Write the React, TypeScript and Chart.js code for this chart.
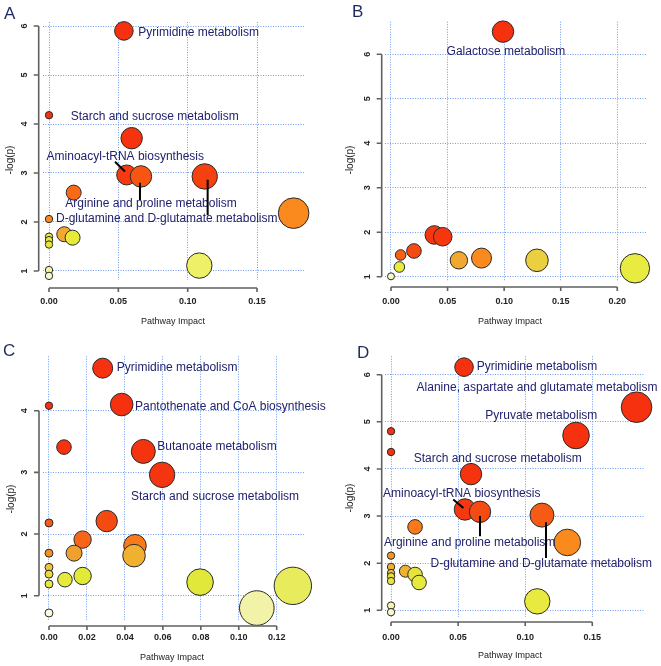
import React, { useEffect, useRef } from 'react';
import { Chart, registerables } from 'chart.js';

Chart.register(...registerables);

// ---------- Panel A ----------
const aImpact = [0.054, 0, 0.0596, 0.056, 0.0663, 0.1123, 0.0178, 0, 0.1764, 0.011, 0.017, 0, 0, 0, 0.1084, 0, 0];
const aLogP = [5.9, 4.18, 3.71, 2.96, 2.93, 2.93, 2.6, 2.06, 2.18, 1.75, 1.68, 1.7, 1.63, 1.54, 1.11, 1.02, 0.9];
const aSize = [9.3, 3.7, 10.7, 10, 10.7, 12.7, 7.5, 3.7, 15.3, 7.5, 7.5, 3.7, 3.7, 3.7, 12.7, 3.7, 3.7];
const aColor = ['#f5310f', '#f5310f', '#f5330f', '#f53a10', '#f85512', '#f54010', '#f86a18', '#fa8a1c', '#fb8a1e', '#f5a830', '#e8ea3a', '#ecec40', '#ece840', '#e6e838', '#eef068', '#f4f4a8', '#f8f8cc'];
const aLabels = ['Pyrimidine metabolism', 'Starch and sucrose metabolism', 'Aminoacyl-tRNA biosynthesis', 'Arginine and proline metabolism', 'D-glutamine and D-glutamate metabolism'];
const aLabelX = [0.0644, 0.0762, 0.055, 0.0736, 0.0849];
const aLabelY = [5.87, 4.15, 3.33, 2.37, 2.06];
const aLabelAlign = ['left', 'center', 'center', 'center', 'center'];
const aLeaderX = [0.0476, 0.0548, 0.0656, 0.0656, 0.1144, 0.1144];
const aLeaderY = [3.23, 3.03, 2.8, 2.45, 2.86, 2.14];
const aXTicks = [0, 0.05, 0.1, 0.15];
const aYTicks = [1, 2, 3, 4, 5, 6];

// ---------- Panel B ----------
const bImpact = [0.099, 0.0383, 0.0457, 0.0203, 0.0085, 0.0074, 0, 0.06, 0.08, 0.129, 0.2156];
const bLogP = [6.51, 1.94, 1.9, 1.58, 1.49, 1.22, 1.01, 1.37, 1.42, 1.37, 1.19];
const bSize = [10.7, 9.3, 9.3, 7.3, 5.3, 5.3, 3.5, 8.7, 10, 11.3, 14.7];
const bColor = ['#f5310f', '#f5360f', '#f5360f', '#f54a12', '#f86015', '#e8ec3c', '#f8f8c8', '#f0a830', '#fa8a1e', '#ead040', '#e8ec40'];
const bLabels = ['Galactose metabolism'];
const bLabelX = [0.1016];
const bLabelY = [6.07];
const bLabelAlign = ['center'];
const bLeaderX: number[] = [];
const bLeaderY: number[] = [];
const bXTicks = [0, 0.05, 0.1, 0.15, 0.2];
const bYTicks = [1, 2, 3, 4, 5, 6];

// ---------- Panel C ----------
const cImpact = [0.0283, 0, 0.0383, 0.0079, 0.0497, 0.0596, 0.0304, 0, 0.0177, 0.0453, 0.0132, 0.0448, 0, 0, 0, 0, 0.0084, 0.0177, 0.0796, 0.1285, 0.1095, 0];
const cLogP = [4.69, 4.08, 4.1, 3.41, 3.34, 2.96, 2.21, 2.18, 1.91, 1.81, 1.69, 1.65, 1.69, 1.46, 1.35, 1.19, 1.26, 1.32, 1.22, 1.16, 0.8, 0.72];
const cSize = [10, 3.7, 11.3, 7.3, 12, 12.7, 10.7, 4, 8.7, 11.3, 8, 11.3, 4, 4, 4, 4, 7.3, 8.7, 13.3, 18.7, 17.3, 4];
const cColor = ['#f5310f', '#f5310f', '#f5310f', '#f5330f', '#f5330f', '#f5350f', '#f54a12', '#f75a14', '#f86418', '#fa7a1a', '#f0a030', '#f0b030', '#f7901e', '#f0c438', '#ecd840', '#e8e640', '#e6ea3c', '#e2ea38', '#e2e83a', '#e8ec5c', '#f2f2a8', '#fcfae0'];
const cLabels = ['Pyrimidine metabolism', 'Pantothenate and CoA biosynthesis', 'Butanoate metabolism', 'Starch and sucrose metabolism'];
const cLabelX = [0.0357, 0.0453, 0.0571, 0.0875];
const cLabelY = [4.69, 4.06, 3.41, 2.61];
const cLabelAlign = ['left', 'left', 'left', 'center'];
const cLeaderX: number[] = [];
const cLeaderY: number[] = [];
const cXTicks = [0, 0.02, 0.04, 0.06, 0.08, 0.1, 0.12];
const cYTicks = [1, 2, 3, 4];

// ---------- Panel D ----------
const dImpact = [0.0544, 0.183, 0.1379, 0, 0, 0.0596, 0.0551, 0.0663, 0.1125, 0.1314, 0.0179, 0, 0, 0, 0, 0, 0.0107, 0.0179, 0.0209, 0.109, 0, 0];
const dLogP = [6.16, 5.31, 4.71, 4.8, 4.36, 3.89, 3.14, 3.09, 3.02, 2.44, 2.77, 2.16, 1.92, 1.79, 1.72, 1.62, 1.83, 1.76, 1.59, 1.19, 1.1, 0.96];
const dSize = [9.3, 15.3, 13.3, 3.7, 3.7, 10.7, 10.7, 10.7, 12, 13.3, 7.3, 3.7, 3.7, 3.7, 3.7, 3.7, 6, 7.3, 7.3, 12.7, 3.7, 3.7];
const dColor = ['#f5310f', '#f5310f', '#f5310f', '#f5310f', '#f5310f', '#f5330f', '#f5380f', '#f54a12', '#f75a14', '#fa8a1e', '#f87a1a', '#f7961e', '#f0b030', '#ecc838', '#e8dc3c', '#e6e63c', '#f0b030', '#e8e23c', '#e6ea3c', '#e8ea40', '#f4f4b0', '#f8f8d0'];
const dLabels = ['Pyrimidine metabolism', 'Alanine, aspartate and glutamate metabolism', 'Pyruvate metabolism', 'Starch and sucrose metabolism', 'Aminoacyl-tRNA biosynthesis', 'Arginine and proline metabolism', 'D-glutamine and D-glutamate metabolism'];
const dLabelX = [0.0638, 0.1088, 0.112, 0.0795, 0.0527, 0.0586, 0.112];
const dLabelY = [6.18, 5.72, 5.12, 4.21, 3.47, 2.43, 1.98];
const dLabelAlign = ['left', 'center', 'center', 'center', 'center', 'center', 'center'];
const dLeaderX = [0.0464, 0.0539, 0.0663, 0.0663, 0.1155, 0.1155];
const dLeaderY = [3.35, 3.17, 3.0, 2.57, 2.87, 2.11];
const dXTicks = [0, 0.05, 0.1, 0.15];
const dYTicks = [1, 2, 3, 4, 5, 6];

const FONT = '"Liberation Sans", Arial, sans-serif';
const LABEL_COLOR = '#22226e';

type PanelProps = {
  letter: string;
  left: number; top: number; width: number; height: number;
  area: { l: number; r: number; t: number; b: number };
  xRange: [number, number]; yRange: [number, number];
  impact: number[]; logp: number[]; size: number[]; color: string[];
  labels: string[]; labelX: number[]; labelY: number[]; labelAlign: string[];
  leaderX: number[]; leaderY: number[];
  xTicks: number[]; yTicks: number[]; xDecimals: number;
  yAxisX: number; xAxisY: number; xTickY: number;
  xTitle: [number, number]; yTitle: [number, number]; letterPos: [number, number];
};

function Panel(p: PanelProps) {
  const ref = useRef<HTMLCanvasElement>(null);
  useEffect(() => {
    const canvas = ref.current!;
    const overlay = {
      id: 'overlay',
      afterDatasetsDraw(chart: any) {
        const ctx: CanvasRenderingContext2D = chart.ctx;
        const xs = chart.scales.x;
        const ys = chart.scales.y;
        ctx.save();
        // axes
        ctx.strokeStyle = '#606060';
        ctx.lineWidth = 1.6;
        ctx.beginPath();
        const yTop = ys.getPixelForValue(p.yTicks[p.yTicks.length - 1]);
        const yBot = ys.getPixelForValue(p.yTicks[0]);
        ctx.moveTo(p.yAxisX, yTop);
        ctx.lineTo(p.yAxisX, yBot);
        p.yTicks.forEach((v) => {
          const py = ys.getPixelForValue(v);
          ctx.moveTo(p.yAxisX, py);
          ctx.lineTo(p.yAxisX - 5, py);
        });
        const xL = xs.getPixelForValue(p.xTicks[0]);
        const xR = xs.getPixelForValue(p.xTicks[p.xTicks.length - 1]);
        ctx.moveTo(xL, p.xAxisY);
        ctx.lineTo(xR, p.xAxisY);
        p.xTicks.forEach((v) => {
          const px = xs.getPixelForValue(v);
          ctx.moveTo(px, p.xAxisY);
          ctx.lineTo(px, p.xAxisY + 4);
        });
        ctx.stroke();
        // tick labels
        ctx.fillStyle = '#222';
        ctx.font = `bold 9px ${FONT}`;
        ctx.textAlign = 'center';
        ctx.textBaseline = 'middle';
        p.xTicks.forEach((v) => {
          ctx.fillText(v.toFixed(p.xDecimals), xs.getPixelForValue(v), p.xTickY);
        });
        p.yTicks.forEach((v) => {
          ctx.save();
          ctx.translate(p.yAxisX - 14.5, ys.getPixelForValue(v));
          ctx.rotate(-Math.PI / 2);
          ctx.fillText(String(v), 0, 0);
          ctx.restore();
        });
        // titles
        ctx.font = `9px ${FONT}`;
        ctx.fillText('Pathway Impact', p.xTitle[0], p.xTitle[1]);
        ctx.save();
        ctx.translate(p.yTitle[0], p.yTitle[1]);
        ctx.rotate(-Math.PI / 2);
        ctx.font = `10px ${FONT}`;
        ctx.fillText('-log(p)', 0, 0);
        ctx.restore();
        // panel letter
        ctx.fillStyle = '#1e2a5e';
        ctx.font = `17px ${FONT}`;
        ctx.textAlign = 'left';
        ctx.textBaseline = 'alphabetic';
        ctx.fillText(p.letter, p.letterPos[0], p.letterPos[1]);
        // labels
        ctx.fillStyle = LABEL_COLOR;
        ctx.font = `12px ${FONT}`;
        ctx.textBaseline = 'middle';
        p.labels.forEach((t, i) => {
          ctx.textAlign = p.labelAlign[i] as CanvasTextAlign;
          ctx.fillText(t, xs.getPixelForValue(p.labelX[i]), ys.getPixelForValue(p.labelY[i]));
        });
        // leader lines
        ctx.strokeStyle = '#000';
        ctx.lineWidth = 2;
        ctx.beginPath();
        for (let i = 0; i + 1 < p.leaderX.length; i += 2) {
          ctx.moveTo(xs.getPixelForValue(p.leaderX[i]), ys.getPixelForValue(p.leaderY[i]));
          ctx.lineTo(xs.getPixelForValue(p.leaderX[i + 1]), ys.getPixelForValue(p.leaderY[i + 1]));
        }
        ctx.stroke();
        ctx.restore();
      },
    };
    const gridColor = 'rgba(95,145,240,0.9)';
    const chart = new Chart(canvas, {
      type: 'bubble',
      data: {
        datasets: [
          {
            data: p.impact.map((x, i) => ({ x, y: p.logp[i], r: p.size[i] })),
            backgroundColor: p.color,
            borderColor: '#2a2a2a',
            borderWidth: 1,
            clip: false as any,
          },
        ],
      },
      options: {
        responsive: false,
        animation: false,
        events: [],
        layout: {
          autoPadding: false,
          padding: { left: p.area.l, right: p.width - p.area.r, top: p.area.t, bottom: p.height - p.area.b },
        },
        plugins: { legend: { display: false }, tooltip: { enabled: false } },
        scales: {
          x: {
            type: 'linear',
            min: p.xRange[0],
            max: p.xRange[1],
            afterBuildTicks: (s: any) => { s.ticks = p.xTicks.map((v) => ({ value: v })); },
            afterFit: (s: any) => { s.height = 0; },
            ticks: { display: false },
            grid: { color: gridColor, lineWidth: 1, drawTicks: false },
            border: { display: false, dash: [1, 1.5] },
          },
          y: {
            type: 'linear',
            min: p.yRange[0],
            max: p.yRange[1],
            afterBuildTicks: (s: any) => { s.ticks = p.yTicks.map((v) => ({ value: v })); },
            afterFit: (s: any) => { s.width = 0; },
            ticks: { display: false },
            grid: { color: gridColor, lineWidth: 1, drawTicks: false },
            border: { display: false, dash: [1, 1.5] },
          },
        },
      } as any,
      plugins: [overlay],
    });
    return () => chart.destroy();
  }, []);
  return (
    <canvas
      ref={ref}
      width={p.width}
      height={p.height}
      style={{ position: 'absolute', left: p.left, top: p.top, width: p.width, height: p.height, display: 'block' }}
    />
  );
}

export default function App() {
  return (
    <div style={{ position: 'absolute', left: 0, top: 0, width: 661, height: 666, background: '#fff', overflow: 'hidden' }}>
      <Panel
        letter="A" left={0} top={0} width={330} height={333}
        area={{ l: 43, r: 305, t: 22, b: 280 }}
        xRange={[-0.00433, 0.1846]} yRange={[0.816, 6.082]}
        impact={aImpact} logp={aLogP} size={aSize} color={aColor}
        labels={aLabels} labelX={aLabelX} labelY={aLabelY} labelAlign={aLabelAlign}
        leaderX={aLeaderX} leaderY={aLeaderY}
        xTicks={aXTicks} yTicks={aYTicks} xDecimals={2}
        yAxisX={38.7} xAxisY={288} xTickY={302}
        xTitle={[173, 322]} yTitle={[10.5, 160]} letterPos={[4, 19]}
      />
      <Panel
        letter="B" left={330} top={0} width={331} height={333}
        area={{ l: 55, r: 316.7, t: 21.7, b: 281 }}
        xRange={[-0.0053, 0.226]} yRange={[0.905, 6.733]}
        impact={bImpact} logp={bLogP} size={bSize} color={bColor}
        labels={bLabels} labelX={bLabelX} labelY={bLabelY} labelAlign={bLabelAlign}
        leaderX={bLeaderX} leaderY={bLeaderY}
        xTicks={bXTicks} yTicks={bYTicks} xDecimals={2}
        yAxisX={51.7} xAxisY={287} xTickY={302}
        xTitle={[180, 322]} yTitle={[20.7, 160]} letterPos={[22, 17]}
      />
      <Panel
        letter="C" left={0} top={333} width={330} height={333}
        area={{ l: 43.3, r: 305, t: 23.3, b: 288 }}
        xRange={[-0.003, 0.1349]} yRange={[0.59, 4.882]}
        impact={cImpact} logp={cLogP} size={cSize} color={cColor}
        labels={cLabels} labelX={cLabelX} labelY={cLabelY} labelAlign={cLabelAlign}
        leaderX={cLeaderX} leaderY={cLeaderY}
        xTicks={cXTicks} yTicks={cYTicks} xDecimals={2}
        yAxisX={39} xAxisY={293} xTickY={305}
        xTitle={[172, 325]} yTitle={[11, 166]} letterPos={[3, 23]}
      />
      <Panel
        letter="D" left={330} top={333} width={331} height={333}
        area={{ l: 55, r: 315, t: 23.3, b: 284 }}
        xRange={[-0.0045, 0.1893]} yRange={[0.858, 6.39]}
        impact={dImpact} logp={dLogP} size={dSize} color={dColor}
        labels={dLabels} labelX={dLabelX} labelY={dLabelY} labelAlign={dLabelAlign}
        leaderX={dLeaderX} leaderY={dLeaderY}
        xTicks={dXTicks} yTicks={dYTicks} xDecimals={2}
        yAxisX={51.7} xAxisY={289} xTickY={305}
        xTitle={[180, 323]} yTitle={[20, 165]} letterPos={[27, 25]}
      />
    </div>
  );
}
